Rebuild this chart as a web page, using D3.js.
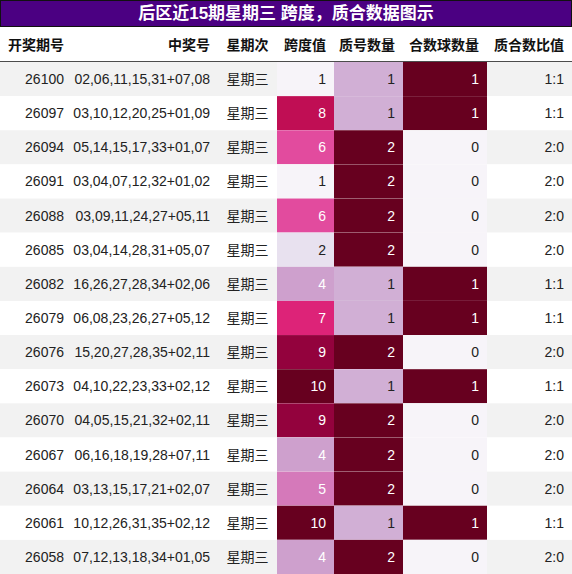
<!DOCTYPE html>
<html><head><meta charset="utf-8">
<script src="https://cdn.jsdelivr.net/npm/d3@7"></script>
<style>body{margin:0;background:#fff;}</style>
</head><body>
<script>
var issues = ['26100','26097','26094','26091','26088','26085','26082','26079','26076','26073','26070','26067','26064','26061','26058'];
var numbers = ['02,06,11,15,31+07,08','03,10,12,20,25+01,09','05,14,15,17,33+01,07','03,04,07,12,32+01,02','03,09,11,24,27+05,11','03,04,14,28,31+05,07','16,26,27,28,34+02,06','06,08,23,26,27+05,12','15,20,27,28,35+02,11','04,10,22,23,33+02,12','04,05,15,21,32+02,11','06,16,18,19,28+07,11','03,13,15,17,21+02,07','10,12,26,31,35+02,12','07,12,13,18,34+01,05'];
var spans = [1,8,6,1,6,2,4,7,9,10,9,4,5,10,4];
var primes = [1,1,2,2,2,2,1,1,2,1,2,2,2,1,2];
var composites = [1,1,0,0,0,0,1,1,0,1,0,0,0,1,0];
var headers = ['开奖期号','中奖号','星期次','跨度值','质号数量','合数球数量','质合数比值'];
var title = '后区近15期星期三 跨度，质合数据图示';

var w = 572, h = 574, titleH = 26, headH = 36;
var rowH = (h - titleH - headH) / issues.length;
var edges = [0, 72, 218, 277, 334, 403, 487, 572];
var font = '"Liberation Sans", "Noto Sans CJK SC", sans-serif';

var svg = d3.select('body').append('svg').attr('width', w).attr('height', h);

svg.append('rect').attr('x', 0.5).attr('y', 0.5).attr('width', w - 1).attr('height', titleH)
  .attr('fill', '#4b0082').attr('stroke', '#111');
svg.append('text').attr('x', w / 2).attr('y', 19).attr('text-anchor', 'middle')
  .attr('font-family', font).attr('font-size', 17).attr('font-weight', 'bold').attr('fill', '#fff').text(title);

var y = d3.scaleBand().domain(d3.range(issues.length)).range([titleH + headH, h]);
var spanColor = d3.scaleSequential(d3.interpolatePuRd).domain([1, 10]);
var countColor = d3.scaleSequential(d3.interpolatePuRd).domain([0.6, 2]);
var compColor = d3.scaleSequential(d3.interpolatePuRd).domain([0, 1]);

// header
var hy = titleH + headH / 2 + 6;
var headAnchor = ['start','end','middle','end','end','end','end'];
headers.forEach(function(t, i) {
  var a = headAnchor[i];
  var x = a === 'start' ? edges[i] + 8 : a === 'middle' ? (edges[i] + edges[i+1]) / 2 : edges[i+1] - 8;
  svg.append('text').attr('x', x).attr('y', hy).attr('text-anchor', a)
    .attr('font-family', font).attr('font-size', 14).attr('font-weight', 'bold').attr('fill', '#111').text(t);
});
svg.append('line').attr('x1', 0).attr('x2', w).attr('y1', titleH + headH).attr('y2', titleH + headH)
  .attr('stroke', '#111').attr('stroke-width', 1.5);

var rows = svg.selectAll('g.row').data(issues).enter().append('g')
  .attr('transform', function(d, i) { return 'translate(0,' + y(i) + ')'; });

rows.append('rect').attr('width', w).attr('height', rowH)
  .attr('fill', function(d, i) { return i % 2 === 0 ? '#f2f2f2' : '#fff'; });

function cell(col, colorFn, vals) {
  rows.append('rect').attr('x', edges[col]).attr('width', edges[col+1] - edges[col]).attr('height', rowH)
    .attr('fill', function(d, i) { return colorFn(vals[i]); });
}
cell(3, spanColor, spans);
cell(4, countColor, primes);
cell(5, compColor, composites);

function txt(col, anchor, vals, dark) {
  rows.append('text')
    .attr('x', anchor === 'middle' ? (edges[col] + edges[col+1]) / 2 : edges[col+1] - 8)
    .attr('y', rowH / 2 + 5).attr('text-anchor', anchor)
    .attr('font-family', font).attr('font-size', 14)
    .attr('fill', function(d, i) { return dark && dark(vals[i]) ? '#fff' : '#222'; })
    .text(function(d, i) { return vals[i]; });
}
txt(0, 'end', issues);
txt(1, 'end', numbers);
txt(2, 'middle', issues.map(function() { return '星期三'; }));
txt(3, 'end', spans, function(v) { return v >= 4; });
txt(4, 'end', primes, function(v) { return v >= 2; });
txt(5, 'end', composites, function(v) { return v >= 1; });
txt(6, 'end', primes.map(function(p, i) { return p + ':' + composites[i]; }));
</script>
</body></html>
